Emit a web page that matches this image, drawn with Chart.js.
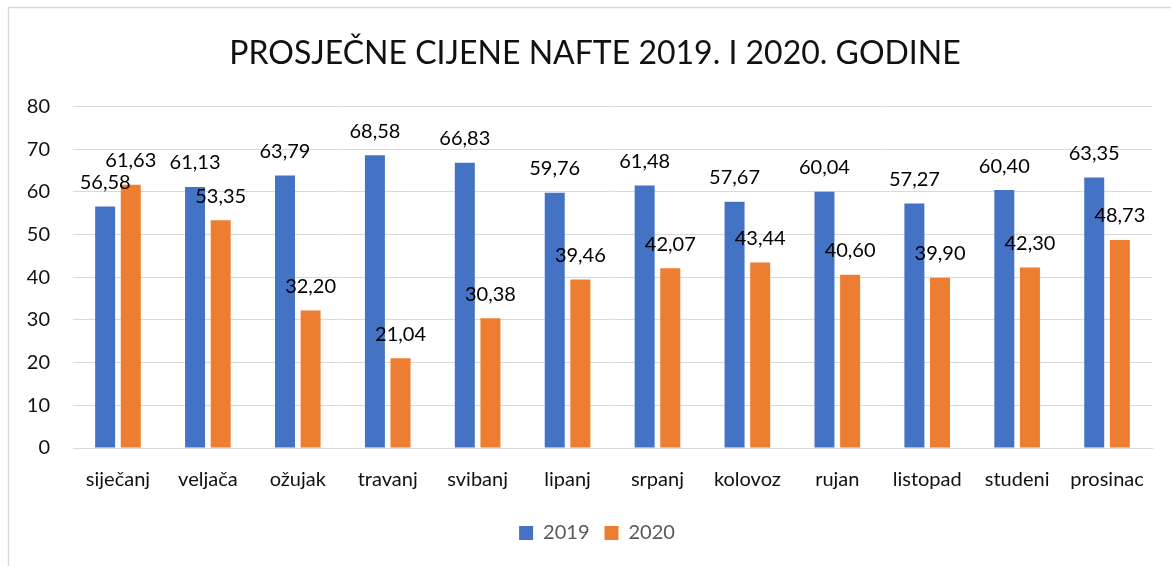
<!DOCTYPE html>
<html>
<head>
<meta charset="utf-8">
<script src="https://cdn.jsdelivr.net/npm/chart.js@4.4.1/dist/chart.umd.min.js"></script>
<style>
  html, body { margin: 0; padding: 0; background: #fff; }
  #wrap { width: 1171px; height: 566px; position: relative; }
</style>
</head>
<body>
<div id="wrap"><canvas id="oil"></canvas></div>
<script>
// Mjeseci i prosječne cijene nafte
const months = ['siječanj', 'veljača', 'ožujak', 'travanj', 'svibanj', 'lipanj',
                'srpanj', 'kolovoz', 'rujan', 'listopad', 'studeni', 'prosinac'];
const prices2019 = [56.58, 61.13, 63.79, 68.58, 66.83, 59.76, 61.48, 57.67, 60.04, 57.27, 60.40, 63.35];
const prices2020 = [61.63, 53.35, 32.20, 21.04, 30.38, 39.46, 42.07, 43.44, 40.60, 39.90, 42.30, 48.73];
const yTicks = [0, 10, 20, 30, 40, 50, 60, 70, 80];

const FONT = "Lato, 'Open Sans', sans-serif";
Chart.defaults.font.family = FONT;

// okvir grafikona (vidljivi samo gornji i lijevi rub)
const frame = {
  id: 'frame',
  beforeDraw(chart) {
    const ctx = chart.ctx;
    ctx.save();
    ctx.strokeStyle = '#d9d9d9';
    ctx.lineWidth = 1.5;
    ctx.beginPath();
    ctx.moveTo(8.5, chart.height);
    ctx.lineTo(8.5, 7.5);
    ctx.lineTo(chart.width, 7.5);
    ctx.stroke();
    ctx.restore();
  }
};

// naslov i legenda centrirani na cijeli okvir, ne na područje crtanja
const shiftHeader = {
  id: 'shiftHeader',
  afterLayout(chart) {
    if (chart.titleBlock) { chart.titleBlock.left += 19; chart.titleBlock.right += 19; }
    if (chart.legend) { chart.legend.left += 21; chart.legend.right += 21; }
  }
};

// oznake vrijednosti iznad stupaca
const valueLabels = {
  id: 'valueLabels',
  afterDatasetsDraw(chart) {
    const ctx = chart.ctx;
    ctx.save();
    ctx.font = `20px ${FONT}`;
    ctx.fillStyle = '#000';
    ctx.textAlign = 'center';
    ctx.textBaseline = 'middle';
    chart.data.datasets.forEach((ds, i) => {
      chart.getDatasetMeta(i).data.forEach((bar, j) => {
        const txt = ds.data[j].toFixed(2).replace('.', ',');
        ctx.fillText(txt, bar.x, bar.y - 24);
      });
    });
    ctx.restore();
  }
};

new Chart(document.getElementById('oil'), {
  type: 'bar',
  data: {
    labels: months,
    datasets: [
      { label: '2019', data: prices2019, backgroundColor: '#4472C4' },
      { label: '2020', data: prices2020, backgroundColor: '#ED7D31' },
    ],
  },
  options: {
    responsive: true,
    maintainAspectRatio: false,
    animation: false,
    categoryPercentage: 0.57,
    barPercentage: 0.78,
    layout: { padding: { top: 0, right: 19, bottom: 13, left: 0 } },
    scales: {
      x: {
        grid: { display: false, drawTicks: false },
        border: { display: true, color: '#d9d9d9', width: 1 },
        ticks: { color: '#111', font: { size: 20 }, padding: 20, maxRotation: 0 },
        afterFit: s => { s.height = 60; },
      },
      y: {
        min: 0, max: 80,
        afterBuildTicks: s => { s.ticks = yTicks.map(v => ({ value: v })); },
        grid: { color: '#d9d9d9', lineWidth: 1, drawTicks: false },
        border: { display: false },
        ticks: { color: '#111', font: { size: 20 }, padding: 23 },
        afterFit: s => { s.width = 73; },
      },
    },
    plugins: {
      title: {
        display: true,
        text: 'PROSJEČNE CIJENE NAFTE 2019. I 2020. GODINE',
        color: '#111',
        font: { size: 32, weight: 'normal' },
        padding: { top: 34, bottom: 34 },
      },
      legend: {
        position: 'bottom',
        labels: {
          color: '#595959',
          font: { size: 20 },
          boxWidth: 14,
          boxHeight: 14,
          padding: 15,
        },
      },
      tooltip: { enabled: false },
    },
  },
  plugins: [frame, shiftHeader, valueLabels],
});
</script>
</body>
</html>
